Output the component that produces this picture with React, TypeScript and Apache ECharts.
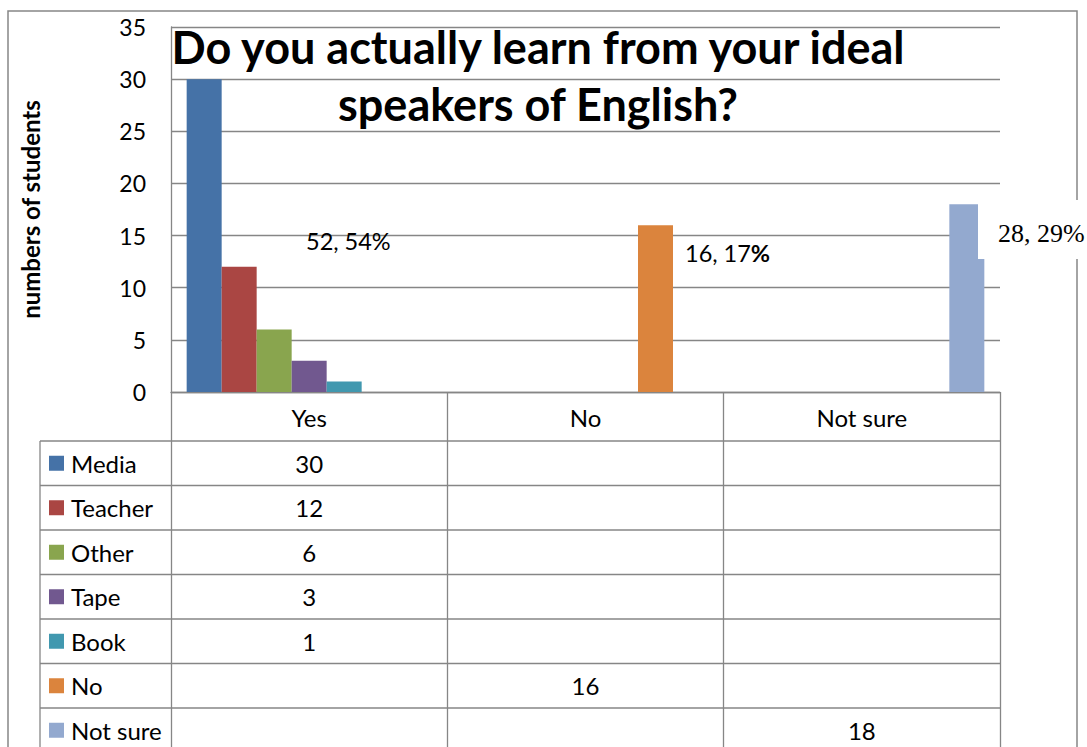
import React, { useEffect, useRef } from "react";
import * as echarts from "echarts";

const categories = ["Yes", "No", "Not sure"];
const seriesNames = ["Media", "Teacher", "Other", "Tape", "Book", "No", "Not sure"];
const media = [30, null, null];
const teacher = [12, null, null];
const other = [6, null, null];
const tape = [3, null, null];
const book = [1, null, null];
const no = [null, 16, null];
const notSure = [null, null, 18];
const seriesData = [media, teacher, other, tape, book, no, notSure];
const seriesColors = ["#4572A7", "#AA4643", "#89A54E", "#71588F", "#4198AF", "#DB843D", "#93A9CF"];
const yMin = 0;
const yMax = 35;
const yStep = 5;
const titleText = "Do you actually learn from your ideal\nspeakers of English?";
const yAxisName = "numbers of students";
const noteYes = "52, 54%";
const noteNo = "16, 17";
const noteNotSure = "28, 29%";

const GRAY = "#868686";
const FONT = "Lato";

export default function App() {
  const ref = useRef<HTMLDivElement>(null);
  useEffect(() => {
    if (!ref.current) return;
    const chart = echarts.init(ref.current, undefined, { renderer: "svg" });
    chart.setOption({
      animation: false,
      backgroundColor: "#fff",
      title: {
        text: titleText,
        left: 538,
        top: 18,
        padding: 0,
        textAlign: "center",
        textStyle: { fontFamily: FONT, fontWeight: "bold", fontSize: 45, lineHeight: 57, color: "#000" },
      },
      grid: { left: 171, right: 87, top: 27, bottom: 355, containLabel: false },
      xAxis: {
        type: "category",
        data: categories,
        axisLine: { show: true, lineStyle: { color: GRAY, width: 1.3 } },
        axisTick: { show: true, length: 370, lineStyle: { color: GRAY, width: 1.3 } },
        axisLabel: { color: "#000", fontFamily: FONT, fontSize: 24, margin: 25, verticalAlign: "middle" },
      },
      yAxis: {
        type: "value",
        min: yMin,
        max: yMax,
        interval: yStep,
        name: yAxisName,
        nameLocation: "middle",
        nameRotate: 90,
        nameGap: 141,
        nameTextStyle: { fontFamily: FONT, fontWeight: "bold", fontSize: 24, color: "#000", verticalAlign: "middle" },
        axisLine: { show: true, lineStyle: { color: GRAY, width: 1.3 } },
        axisTick: { show: false },
        splitLine: { lineStyle: { color: GRAY, width: 1.3 } },
        axisLabel: { color: "#000", fontFamily: FONT, fontSize: 23, margin: 25 },
      },
      series: seriesNames.map((name, i) => ({
        name,
        type: "bar",
        data: seriesData[i],
        barWidth: 35,
        barGap: "0%",
        itemStyle: { color: seriesColors[i] },
      })),
    });

    // build data table & annotations from the axis scales
    const x0 = chart.convertToPixel({ xAxisIndex: 0 }, 0) as number;
    const x1 = chart.convertToPixel({ xAxisIndex: 0 }, 1) as number;
    const band = x1 - x0;
    const left = x0 - band / 2;
    const right = left + band * categories.length;
    const tableTop = 441;
    const rowH = 44.5;
    const tableLeft = 40;
    const elements: any[] = [];
    elements.push({
      type: "rect",
      shape: { x: 8, y: 11, width: 1069, height: 780 },
      style: { fill: "none", stroke: GRAY, lineWidth: 1.5 },
      silent: true,
    });
    for (let r = 0; r <= seriesNames.length; r++) {
      const y = tableTop + r * rowH;
      elements.push({
        type: "line",
        shape: { x1: tableLeft, y1: y, x2: right, y2: y },
        style: { stroke: GRAY, lineWidth: 1.3 },
      });
    }
    elements.push({
      type: "line",
      shape: { x1: tableLeft, y1: tableTop, x2: tableLeft, y2: 780 },
      style: { stroke: GRAY, lineWidth: 1.3 },
    });
    seriesNames.forEach((name, i) => {
      const cy = tableTop + rowH * (i + 0.5);
      elements.push({
        type: "rect",
        shape: { x: 49, y: cy - 7.5, width: 15, height: 15 },
        style: { fill: seriesColors[i] },
      });
      elements.push({
        type: "text",
        x: 71,
        y: cy,
        style: { text: name, font: `24px ${FONT}`, fill: "#000", textAlign: "left", textVerticalAlign: "middle" },
      });
      seriesData[i].forEach((v, c) => {
        if (v == null) return;
        const cx = chart.convertToPixel({ xAxisIndex: 0 }, c) as number;
        elements.push({
          type: "text",
          x: cx,
          y: cy,
          style: { text: String(v), font: `24px ${FONT}`, fill: "#000", textAlign: "center", textVerticalAlign: "middle" },
        });
      });
    });
    // annotations
    elements.push({
      type: "text",
      x: 306,
      y: 241,
      style: { text: noteYes, font: `23.5px ${FONT}`, fill: "#000", textAlign: "left", textVerticalAlign: "middle" },
    });
    elements.push({
      type: "text",
      x: 685,
      y: 253,
      style: {
        text: `{a|${noteNo}}{b|%}`,
        rich: {
          a: { fontFamily: FONT, fontSize: 23.5, color: "#000" },
          b: { fontFamily: FONT, fontSize: 23.5, fontWeight: "bold", color: "#000" },
        },
        textAlign: "left",
        textVerticalAlign: "middle",
      },
    });
    elements.push({
      type: "rect",
      shape: { x: 978, y: 200, width: 120, height: 59 },
      style: { fill: "#fff" },
      z: 10,
    });
    elements.push({
      type: "text",
      x: 998,
      y: 233,
      z: 11,
      style: { text: noteNotSure, font: `26px 'Liberation Serif'`, fill: "#000", textAlign: "left", textVerticalAlign: "middle" },
    });
    chart.setOption({ graphic: { elements } });
    return () => chart.dispose();
  }, []);
  return <div ref={ref} style={{ position: "fixed", left: 0, top: 0, width: 1087, height: 747 }} />;
}
